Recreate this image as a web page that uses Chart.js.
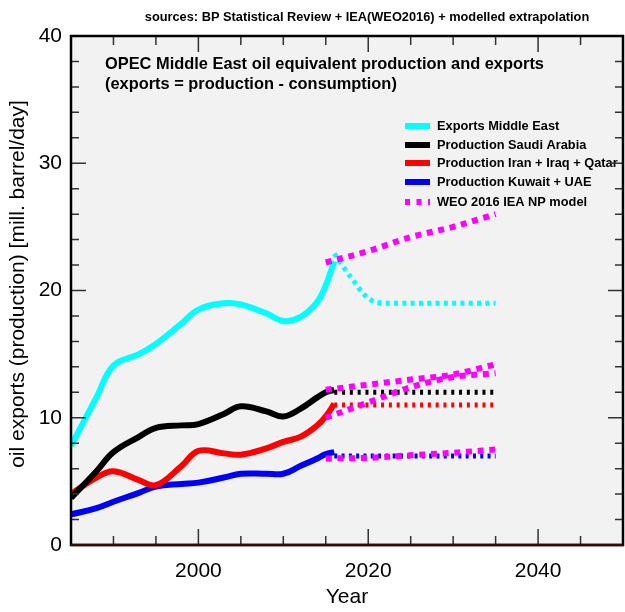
<!DOCTYPE html>
<html>
<head>
<meta charset="utf-8">
<script src="https://cdn.jsdelivr.net/npm/chart.js@4"></script>
<style>
  html, body { margin: 0; padding: 0; background: #fff; }
</style>
</head>
<body>
<canvas id="oilChart" width="625" height="612"></canvas>
<script>
const FONT = "'Liberation Sans', Arial, Helvetica, sans-serif";

// historical data (BP)
const histYears   = [1985, 1988, 1990, 1993, 1995, 1998, 2000, 2003, 2005, 2008, 2010, 2012, 2014, 2015, 2016];
const exportsHist = [7.8, 11.6, 14.1, 15.0, 15.8, 17.4, 18.5, 19.0, 18.9, 18.2, 17.6, 17.9, 19.1, 20.4, 22.3];
const saudiHist   = [3.7, 5.8, 7.3, 8.5, 9.2, 9.4, 9.5, 10.3, 10.9, 10.5, 10.1, 10.7, 11.6, 12.0, 12.2];
const iranHist    = [4.0, 5.3, 5.8, 5.1, 4.7, 6.2, 7.4, 7.2, 7.1, 7.6, 8.1, 8.5, 9.4, 10.1, 11.1];
const kuwaitHist  = [2.4, 2.9, 3.4, 4.1, 4.6, 4.8, 4.9, 5.3, 5.6, 5.6, 5.6, 6.2, 6.8, 7.15, 7.3];

// modelled extrapolation
const projYears   = [2016, 2018, 2020, 2022, 2025, 2030, 2035];
const exportsProj = [22.9, 21.0, 19.4, 19.0, 19.0, 19.0, 19.0];
const saudiProj   = [12, 12, 12, 12, 12, 12, 12];
const iranProj    = [11, 11, 11, 11, 11, 11, 11];
const kuwaitProj  = [7, 7, 7, 7, 7, 7, 7];

// WEO 2016 IEA NP model
const weoYears   = [2015, 2020, 2025, 2030, 2035];
const weoExports = [22.2, 23.1, 24.2, 25.0, 26.0];
const weoSaudi   = [12.2, 12.6, 13.0, 13.4, 14.2];
const weoIran    = [10.0, 11.2, 12.4, 13.2, 13.5];
const weoKuwait  = [6.8, 6.85, 7.05, 7.25, 7.5];

const xTickYears = [2000, 2020, 2040];
const yTickValues = [0, 10, 20, 30, 40];

const legendLabels = ['Exports Middle East', 'Production Saudi Arabia', 'Production Iran + Iraq + Qatar',
                      'Production Kuwait + UAE', 'WEO 2016 IEA NP model'];
const legendColors = ['#00ffff', '#000000', '#ff0000', '#0000ff', '#ff00ff'];

const titleLines = ['OPEC Middle East oil equivalent production and exports',
                    '(exports = production - consumption)'];
const sourcesText = 'sources: BP Statistical Review + IEA(WEO2016) + modelled extrapolation';
const yTitle = 'oil exports (production) [mill. barrel/day]';

const toXY = (xs, ys) => xs.map((x, i) => ({ x: x, y: ys[i] }));

function solid(data, color) {
    return { data: data, borderColor: color, borderWidth: 6, pointRadius: 0,
             tension: 0.4, fill: false, order: 2 };
}
function dotted(data, color, dash, width, order) {
    return { data: data, borderColor: color, borderWidth: width, borderDash: dash, pointRadius: 0,
             cubicInterpolationMode: 'monotone', fill: false, order: order };
}

// background, frame, inward ticks, texts and legend
const decorPlugin = {
    id: 'decor',
    beforeDatasetsDraw(chart) {
        const { ctx, chartArea: a } = chart;
        ctx.save();
        ctx.fillStyle = '#f2f2f2';
        ctx.fillRect(a.left, a.top, a.right - a.left, a.bottom - a.top);
        ctx.restore();
    },
    afterDatasetsDraw(chart) {
        const { ctx, chartArea: a, scales: { x, y } } = chart;
        ctx.save();

        // title inside plot
        ctx.fillStyle = '#000';
        ctx.textBaseline = 'middle';
        ctx.textAlign = 'left';
        ctx.font = 'bold 16.4px ' + FONT;
        titleLines.forEach((t, i) => ctx.fillText(t, 105, 64 + i * 20));

        // sources line above plot
        ctx.font = 'bold 12.8px ' + FONT;
        ctx.textAlign = 'center';
        ctx.fillText(sourcesText, 367, 17);

        // y axis title (a bit above the plot centre, as in the original)
        ctx.save();
        ctx.translate(18, 284);
        ctx.rotate(-Math.PI / 2);
        ctx.font = '21px ' + FONT;
        ctx.fillText(yTitle, 0, 0);
        ctx.restore();

        // legend
        ctx.textAlign = 'left';
        ctx.font = 'bold 12.8px ' + FONT;
        const rows = [126, 145, 163, 182, 202];
        legendLabels.forEach((lab, i) => {
            ctx.beginPath();
            ctx.strokeStyle = legendColors[i];
            ctx.lineWidth = 6;
            ctx.setLineDash(i === 4 ? [5, 6.5] : []);
            ctx.moveTo(405, rows[i]);
            ctx.lineTo(430, rows[i]);
            ctx.stroke();
            ctx.setLineDash([]);
            ctx.fillStyle = '#000';
            ctx.fillText(lab, 437, rows[i] + 0.5);
        });

        // ticks pointing inwards
        ctx.strokeStyle = '#333';
        ctx.lineWidth = 1.5;
        ctx.beginPath();
        for (let v = 1990; v < 2050; v += 5) {
            const px = x.getPixelForValue(v);
            const len = xTickYears.includes(v) ? 16 : 9;
            ctx.moveTo(px, a.bottom); ctx.lineTo(px, a.bottom - len);
            ctx.moveTo(px, a.top); ctx.lineTo(px, a.top + len);
        }
        for (let v = 2; v < 40; v += 2) {
            const py = y.getPixelForValue(v);
            const len = yTickValues.includes(v) ? 15 : 8;
            ctx.moveTo(a.left, py); ctx.lineTo(a.left + len, py);
            ctx.moveTo(a.right, py); ctx.lineTo(a.right - len, py);
        }
        ctx.stroke();

        // frame
        ctx.strokeStyle = '#000';
        ctx.lineWidth = 2.5;
        ctx.strokeRect(a.left, a.top, a.right - a.left, a.bottom - a.top);
        ctx.beginPath();
        ctx.strokeStyle = '#3a0a0a';
        ctx.moveTo(a.left, a.bottom); ctx.lineTo(a.right, a.bottom);
        ctx.stroke();
        ctx.restore();
    }
};

const ctx = document.getElementById('oilChart').getContext('2d');
const oilChart = new Chart(ctx, {
    type: 'line',
    data: {
        datasets: [
            solid(toXY(histYears, exportsHist), '#00ffff'),
            solid(toXY(histYears, saudiHist), '#000000'),
            solid(toXY(histYears, iranHist), '#ff0000'),
            solid(toXY(histYears, kuwaitHist), '#0000ff'),
            dotted(toXY(projYears, exportsProj), '#00ffff', [4, 4.3], 5, 2),
            dotted(toXY(projYears, saudiProj), '#000000', [3, 4.8], 5, 2),
            dotted(toXY(projYears, iranProj), '#ff0000', [3, 4.8], 5, 2),
            dotted(toXY(projYears, kuwaitProj), '#0000ff', [3, 4.3], 5, 2),
            dotted(toXY(weoYears, weoExports), '#ff00ff', [6, 5.7], 6, 1),
            dotted(toXY(weoYears, weoSaudi), '#ff00ff', [6, 5.7], 6, 1),
            dotted(toXY(weoYears, weoIran), '#ff00ff', [6, 5.7], 6, 1),
            dotted(toXY(weoYears, weoKuwait), '#ff00ff', [6, 5.7], 6, 1)
        ]
    },
    options: {
        responsive: false,
        animation: false,
        layout: { padding: { left: 0, right: 2, top: 36, bottom: 0 } },
        plugins: {
            legend: { display: false },
            tooltip: { enabled: false }
        },
        scales: {
            x: {
                type: 'linear',
                min: 1985,
                max: 2050,
                afterBuildTicks: s => { s.ticks = xTickYears.map(v => ({ value: v })); },
                afterFit: s => { s.height = 67; },
                grid: { display: false, drawTicks: false },
                border: { display: false },
                ticks: {
                    color: '#000',
                    padding: 14,
                    maxRotation: 0,
                    font: { family: FONT, size: 21 },
                    callback: v => String(v)
                },
                title: {
                    display: true,
                    text: 'Year',
                    color: '#000',
                    padding: { top: 0, bottom: 2 },
                    font: { family: FONT, size: 21 }
                }
            },
            y: {
                min: 0,
                max: 40,
                afterBuildTicks: s => { s.ticks = yTickValues.map(v => ({ value: v })); },
                afterFit: s => { s.width = 71; },
                grid: { display: false, drawTicks: false },
                border: { display: false },
                ticks: {
                    color: '#000',
                    padding: 9,
                    font: { family: FONT, size: 21 }
                }
            }
        }
    },
    plugins: [decorPlugin]
});
</script>
</body>
</html>
